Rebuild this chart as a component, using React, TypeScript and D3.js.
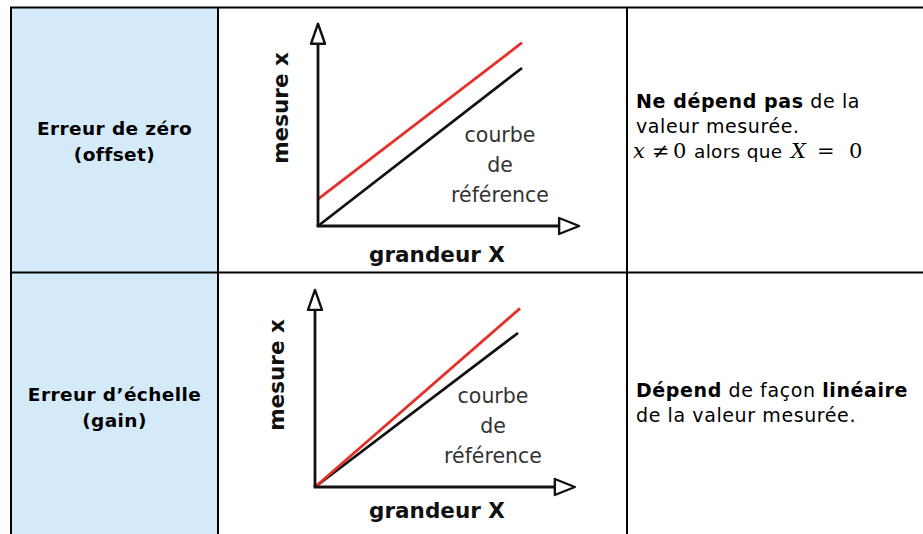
import * as d3 from 'd3';

const WIDTH = 923;
const HEIGHT = 534;

// table content
const rowTitles = [
  ['Erreur de zéro', '(offset)'],
  ['Erreur d’échelle', '(gain)'],
];
const rowDescriptions = [
  [
    [{ t: 'Ne dépend pas', b: true }, { t: ' de la', b: false }],
    [{ t: 'valeur mesurée.', b: false }],
  ],
  [
    [{ t: 'Dépend', b: true }, { t: ' de façon ', b: false }, { t: 'linéaire', b: true }],
    [{ t: 'de la valeur mesurée.', b: false }],
  ],
];

// curve data (grandeur X, mesure x)
const referenceCurve: [number, number][] = [[0, 0], [1, 1]];
const offsetCurve: [number, number][] = [[0, 0.17], [1, 1.16]];
const gainCurve: [number, number][] = [[0, 0], [1.01, 1.16]];
const measuredCurves = [offsetCurve, gainCurve];
const axisExtent = 1.28;
const curveLabelLines = ['courbe', 'de', 'référence'];
const yAxisLabel = 'mesure x';
const xAxisLabel = 'grandeur X';

const SANS = '"DejaVu Sans", Verdana, sans-serif';
const MATH = '"DejaVu Serif", "Liberation Serif", serif';
const BLUE = '#d5eaf8';
const RED = '#e5302a';

const panels = [
  { x0: 318, x1: 522, y0: 226, y1: 68, labelX: 500, labelY: 142, yLabelX: 288, yLabelY: 108, xLabelY: 262 },
  { x0: 315, x1: 518, y0: 487, y1: 333, labelX: 493, labelY: 403, yLabelX: 284, yLabelY: 375, xLabelY: 518 },
];

const grid = { left: 11, col1: 218, col2: 627, right: 930, top: 7.5, mid: 272.5 };

function Panel({ index }: { index: number }) {
  const p = panels[index];
  const x = d3.scaleLinear().domain([0, 1]).range([p.x0, p.x1]);
  const y = d3.scaleLinear().domain([0, 1]).range([p.y0, p.y1]);
  const line = d3.line<[number, number]>().x((d) => x(d[0])).y((d) => y(d[1]));

  const xTip = x(axisExtent);
  const yTip = y(axisExtent);
  const arrowLen = 20;
  const arrowHalf = 8;

  return (
    <g>
      <path d={line(referenceCurve) || ''} stroke="#111" strokeWidth={2.8} fill="none" />
      <path d={line(measuredCurves[index]) || ''} stroke={RED} strokeWidth={2.8} fill="none" />
      {/* axes */}
      <line x1={x(0)} y1={y(0)} x2={x(0)} y2={yTip + arrowLen} stroke="#111" strokeWidth={2.8} />
      <line x1={x(0) - 1.4} y1={y(0)} x2={xTip - arrowLen} y2={y(0)} stroke="#111" strokeWidth={2.8} />
      <path
        d={`M${x(0)},${yTip} L${x(0) + arrowHalf - 1},${yTip + arrowLen} L${x(0) - arrowHalf + 1},${yTip + arrowLen} Z`}
        fill="#fff"
        stroke="#111"
        strokeWidth={2.4}
        strokeLinejoin="round"
      />
      <path
        d={`M${xTip},${y(0)} L${xTip - arrowLen},${y(0) - arrowHalf} L${xTip - arrowLen},${y(0) + arrowHalf} Z`}
        fill="#fff"
        stroke="#111"
        strokeWidth={2.4}
        strokeLinejoin="round"
      />
      <text
        transform={`translate(${p.yLabelX},${p.yLabelY}) rotate(-90)`}
        textAnchor="middle"
        fontFamily={SANS}
        fontWeight="bold"
        fontSize={21.5}
        fill="#111"
      >
        {yAxisLabel}
      </text>
      <text x={437} y={p.xLabelY} textAnchor="middle" fontFamily={SANS} fontWeight="bold" fontSize={21.5} fill="#111">
        {xAxisLabel}
      </text>
      {curveLabelLines.map((s, i) => (
        <text
          key={s}
          x={p.labelX}
          y={p.labelY + i * 30}
          textAnchor="middle"
          fontFamily={SANS}
          fontSize={20.5}
          fill="#333"
        >
          {s}
        </text>
      ))}
    </g>
  );
}

export default function App() {
  const titleBaselines = [[135, 161], [401, 427]];
  const descBaselines = [[108, 133], [397, 422]];
  const leftCenter = (grid.left + grid.col1) / 2;

  return (
    <div style={{ position: 'absolute', left: 0, top: 0 }}>
      <svg width={WIDTH} height={HEIGHT} style={{ display: 'block', background: '#fff' }}>
        <rect x={grid.left} y={grid.top} width={grid.col1 - grid.left} height={HEIGHT} fill={BLUE} />

        {rowTitles.map((lines, r) =>
          lines.map((s, i) => (
            <text
              key={`${r}-${i}`}
              x={leftCenter}
              y={titleBaselines[r][i]}
              textAnchor="middle"
              fontFamily={SANS}
              fontWeight="bold"
              fontSize={18.5}
              letterSpacing={0.4}
              fill="#000"
            >
              {s}
            </text>
          ))
        )}

        {rowDescriptions.map((lines, r) =>
          lines.map((parts, i) => (
            <text
              key={`${r}-${i}`}
              x={636}
              y={descBaselines[r][i]}
              fontFamily={SANS}
              fontSize={19}
              letterSpacing={0.6}
              fill="#000"
            >
              {parts.map((part, k) => (
                <tspan key={k} fontWeight={part.b ? 'bold' : 'normal'}>
                  {part.t}
                </tspan>
              ))}
            </text>
          ))
        )}

        {/* x ≠ 0 alors que X = 0 */}
        <text y={158} fontSize={21} fill="#000">
          <tspan x={633} fontFamily={MATH} fontStyle="italic">x</tspan>
          <tspan x={652} fontFamily={MATH}>≠</tspan>
          <tspan x={673} fontFamily={MATH}>0</tspan>
          <tspan x={694} fontFamily={SANS} fontSize={18.5} letterSpacing={0.3}>alors que</tspan>
          <tspan x={791} fontFamily={MATH} fontStyle="italic">X</tspan>
          <tspan x={817} fontFamily={MATH}>=</tspan>
          <tspan x={849} fontFamily={MATH}>0</tspan>
        </text>

        <Panel index={0} />
        <Panel index={1} />

        {/* table grid */}
        <g stroke="#000" strokeWidth={2}>
          <line x1={grid.left - 1} y1={grid.top} x2={grid.right} y2={grid.top} />
          <line x1={grid.left - 1} y1={grid.mid} x2={grid.right} y2={grid.mid} />
          <line x1={grid.left} y1={grid.top} x2={grid.left} y2={HEIGHT} />
          <line x1={grid.col1} y1={grid.top} x2={grid.col1} y2={HEIGHT} />
          <line x1={grid.col2} y1={grid.top} x2={grid.col2} y2={HEIGHT} />
        </g>
      </svg>
    </div>
  );
}
